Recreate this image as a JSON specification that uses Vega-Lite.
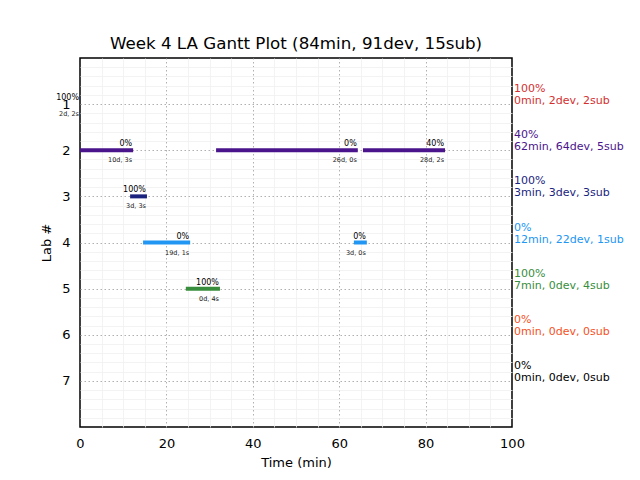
{
  "$schema": "https://vega.github.io/schema/vega-lite/v6.json",
  "width": 432,
  "height": 369,
  "autosize": {"type": "none"},
  "padding": {"left": 80, "top": 58, "right": 128, "bottom": 53},
  "config": {
    "font": "DejaVu Sans",
    "view": {"stroke": "black", "strokeWidth": 1.5},
    "background": "white"
  },
  "title": {"text": "Week 4 LA Gantt Plot (84min, 91dev, 15sub)", "fontSize": 16.7, "fontWeight": "normal", "font": "DejaVu Sans", "color": "black", "offset": 5, "anchor": "middle"},
  "datasets": {
    "bars": [
      {"lab": 1, "start": 0, "end": 0, "pct": "100%", "info": "2d, 2s"},
      {"lab": 2, "start": 0, "end": 12.3, "pct": "0%", "info": "10d, 3s"},
      {"lab": 2, "start": 31.5, "end": 64.3, "pct": "0%", "info": "26d, 0s"},
      {"lab": 2, "start": 65.5, "end": 84.5, "pct": "40%", "info": "28d, 2s"},
      {"lab": 3, "start": 11.6, "end": 15.5, "pct": "100%", "info": "3d, 3s"},
      {"lab": 4, "start": 14.6, "end": 25.5, "pct": "0%", "info": "19d, 1s"},
      {"lab": 4, "start": 63.4, "end": 66.4, "pct": "0%", "info": "3d, 0s"},
      {"lab": 5, "start": 24.5, "end": 32.4, "pct": "100%", "info": "0d, 4s"}
    ],
    "labs": [
      {"lab": 1, "pct": "100%", "summary": "0min, 2dev, 2sub"},
      {"lab": 2, "pct": "40%", "summary": "62min, 64dev, 5sub"},
      {"lab": 3, "pct": "100%", "summary": "3min, 3dev, 3sub"},
      {"lab": 4, "pct": "0%", "summary": "12min, 22dev, 1sub"},
      {"lab": 5, "pct": "100%", "summary": "7min, 0dev, 4sub"},
      {"lab": 6, "pct": "0%", "summary": "0min, 0dev, 0sub"},
      {"lab": 7, "pct": "0%", "summary": "0min, 0dev, 0sub"}
    ]
  },
  "resolve": {"axis": {"x": "independent", "y": "independent"}},
  "layer": [
    {
      "data": {"name": "bars"},
      "mark": {"type": "rule", "strokeWidth": 4, "strokeCap": "butt"},
      "encoding": {
        "x": {"field": "start", "type": "quantitative", "scale": {"domain": [0, 100], "nice": false, "zero": false},
          "axis": {"orient": "bottom", "values": [5,10,15,25,30,35,45,50,55,65,70,75,85,90,95], "grid": true, "gridColor": "#f0f0f0", "gridWidth": 0.8, "labels": false, "ticks": false, "domain": false, "title": null}},
        "x2": {"field": "end"},
        "y": {"field": "lab", "type": "quantitative", "scale": {"domain": [0, 8], "reverse": true, "nice": false, "zero": false},
          "axis": {"orient": "left", "values": [0.2,0.4,0.6,0.8,1.2,1.4,1.6,1.8,2.2,2.4,2.6,2.8,3.2,3.4,3.6,3.8,4.2,4.4,4.6,4.8,5.2,5.4,5.6,5.8,6.2,6.4,6.6,6.8,7.2,7.4,7.6,7.8], "grid": true, "gridColor": "#f0f0f0", "gridWidth": 0.8, "labels": false, "ticks": false, "domain": false, "title": null}},
        "color": {"field": "lab", "type": "ordinal", "scale": {"domain": [1,2,3,4,5,6,7], "range": ["#d32f2f","#4a148c","#1a237e","#2196f3","#388e3c","#f4511e","#000000"]}, "legend": null}
      }
    },
    {
      "data": {"name": "bars"},
      "mark": {"type": "text", "align": "right", "baseline": "alphabetic", "dy": -4, "dx": -1, "fontSize": 8, "color": "black"},
      "encoding": {
        "x": {"field": "end", "type": "quantitative",
          "axis": {"orient": "bottom", "values": [0,20,40,60,80,100], "grid": true, "gridColor": "#b0b0b0", "gridDash": [1.5, 2.5], "gridWidth": 1,
            "gridOpacity": {"condition": {"test": "datum.value <= 0 || datum.value >= 100", "value": 0}, "value": 1},
            "labelFlush": false, "ticks": false, "domain": false, "labelFontSize": 13, "labelColor": "black", "labelPadding": 10, "labelFont": "DejaVu Sans", "title": "Time (min)", "titleFontSize": 13, "titleFontWeight": "normal", "titleColor": "black", "titlePadding": 6, "titleFont": "DejaVu Sans"}},
        "y": {"field": "lab", "type": "quantitative",
          "axis": {"orient": "left", "values": [1,2,3,4,5,6,7], "grid": true, "gridColor": "#b0b0b0", "gridDash": [1.5, 2.5], "gridWidth": 1, "ticks": false, "domain": false, "labelFontSize": 13, "labelColor": "black", "labelPadding": 10, "labelFont": "DejaVu Sans", "title": "Lab #", "titleFontSize": 13, "titleFontWeight": "normal", "titleColor": "black", "titlePadding": 8, "titleFont": "DejaVu Sans"}},
        "text": {"field": "pct"}
      }
    },
    {
      "data": {"name": "bars"},
      "mark": {"type": "text", "align": "right", "baseline": "top", "dy": 7, "dx": -1, "fontSize": 6.5, "color": "#222222"},
      "encoding": {
        "x": {"field": "end", "type": "quantitative", "axis": null},
        "y": {"field": "lab", "type": "quantitative", "axis": null},
        "text": {"field": "info"}
      }
    },
    {
      "data": {"name": "labs"},
      "mark": {"type": "text", "align": "left", "baseline": "alphabetic", "dx": 2, "dy": -12, "fontSize": 11},
      "encoding": {
        "x": {"datum": 100, "type": "quantitative", "axis": null},
        "y": {"field": "lab", "type": "quantitative", "axis": null},
        "text": {"field": "pct"},
        "color": {"field": "lab", "type": "ordinal", "legend": null}
      }
    },
    {
      "data": {"name": "labs"},
      "mark": {"type": "text", "align": "left", "baseline": "alphabetic", "dx": 2, "dy": 0, "fontSize": 11},
      "encoding": {
        "x": {"datum": 100, "type": "quantitative", "axis": null},
        "y": {"field": "lab", "type": "quantitative", "axis": null},
        "text": {"field": "summary"},
        "color": {"field": "lab", "type": "ordinal", "legend": null}
      }
    }
  ]
}
